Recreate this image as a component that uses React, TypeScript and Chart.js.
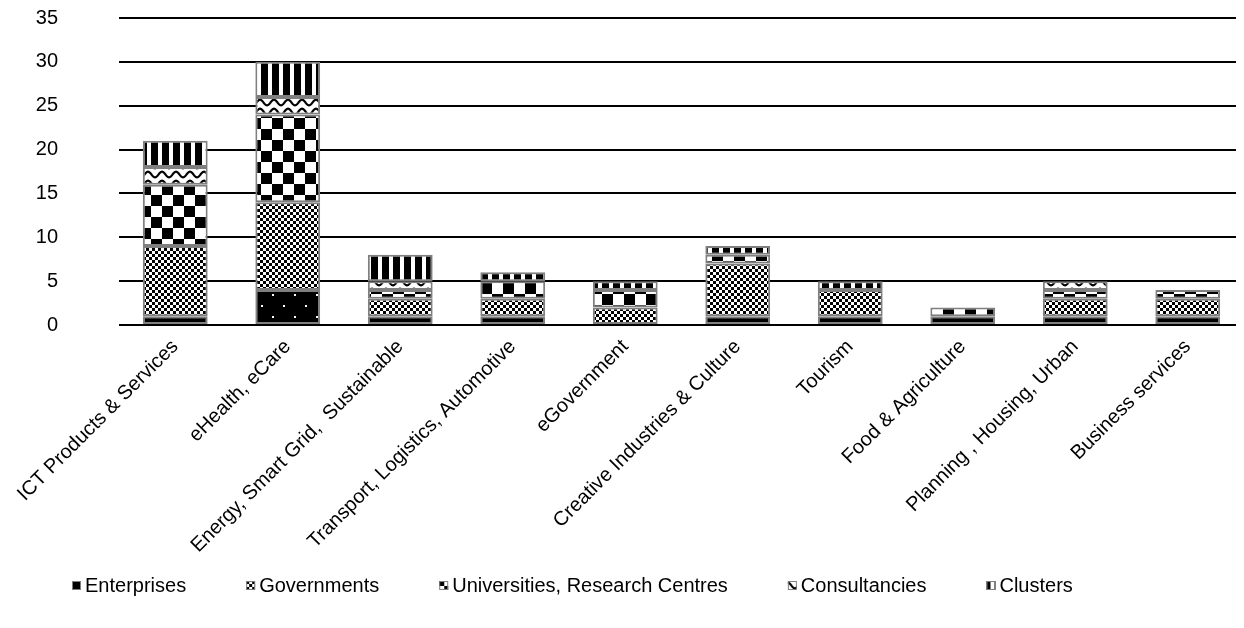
import { useEffect, useRef } from "react";
import { Chart, registerables } from "chart.js";

Chart.register(...registerables);

const categories = [
  "ICT Products & Services",
  "eHealth, eCare",
  "Energy, Smart Grid,  Sustainable",
  "Transport, Logistics, Automotive",
  "eGovernment",
  "Creative Industries & Culture",
  "Tourism",
  "Food & Agriculture",
  "Planning , Housing, Urban",
  "Business services",
];

const enterprises = [1, 4, 1, 1, 0, 1, 1, 1, 1, 1];
const governments = [8, 10, 2, 2, 2, 6, 3, 0, 2, 2];
const universities = [7, 10, 1, 2, 2, 1, 0, 1, 1, 1];
const consultancies = [2, 2, 1, 0, 0, 0, 0, 0, 1, 0];
const clusters = [3, 4, 3, 1, 1, 1, 1, 0, 0, 0];

const yTicks = [0, 5, 10, 15, 20, 25, 30, 35];

const FONT = "'Liberation Sans', Arial, sans-serif";
const FONT_SIZE = 20;
const BORDER = "#7f7f7f";

function tile(w: number, h: number, draw: (g: CanvasRenderingContext2D) => void): CanvasPattern {
  const c = document.createElement("canvas");
  c.width = w;
  c.height = h;
  const g = c.getContext("2d")!;
  g.fillStyle = "#fff";
  g.fillRect(0, 0, w, h);
  g.fillStyle = "#000";
  draw(g);
  return g.createPattern(c, "repeat")!;
}

function buildPatterns() {
  // black with sparse white dots
  const dotted = tile(22, 22, (g) => {
    g.fillRect(0, 0, 22, 22);
    g.fillStyle = "#fff";
    g.fillRect(0, 0, 2, 2);
    g.fillRect(11, 11, 2, 2);
  });
  // fine checkerboard
  const fineCheck = tile(6, 6, (g) => {
    g.fillRect(0, 0, 3, 3);
    g.fillRect(3, 3, 3, 3);
  });
  // large checkerboard
  const bigCheck = tile(22, 22, (g) => {
    g.fillRect(0, 0, 11, 11);
    g.fillRect(11, 11, 11, 11);
  });
  // wavy line
  const wave = tile(14, 9, (g) => {
    g.strokeStyle = "#000";
    g.lineWidth = 2.2;
    g.beginPath();
    for (let x = -1; x <= 15; x += 0.5) {
      const y = 4.5 - 2.8 * Math.cos((2 * Math.PI * x) / 14);
      if (x === -1) g.moveTo(x, y);
      else g.lineTo(x, y);
    }
    g.stroke();
  });
  // wide vertical stripes
  const stripes = tile(11, 4, (g) => {
    g.fillRect(0, 0, 7, 4);
  });
  return { dotted, fineCheck, bigCheck, wave, stripes };
}

type Swatch = { fill: string | CanvasPattern; dx: number; dy: number };

// Legend row drawn under the axis labels: small pattern swatch + label per series
function makeLegendPlugin(swatches: Swatch[]) {
  const left = 64;
  const centerY = 577;
  const box = 9;
  const textGap = 4;
  const itemGap = 60;
  return {
    id: "patternLegend",
    afterDraw(chart: any) {
      const ctx: CanvasRenderingContext2D = chart.ctx;
      ctx.save();
      ctx.font = `${FONT_SIZE}px ${FONT}`;
      ctx.textBaseline = "middle";
      ctx.textAlign = "left";
      let x = left;
      const top = Math.round(centerY - box / 2);
      chart.data.datasets.forEach((ds: any, i: number) => {
        const s = swatches[i];
        // anchor the pattern on the swatch so each one shows a readable piece of it
        ctx.save();
        ctx.translate(x - s.dx, top - s.dy);
        ctx.fillStyle = s.fill;
        ctx.fillRect(s.dx, s.dy, box, box);
        ctx.restore();
        ctx.strokeStyle = BORDER;
        ctx.lineWidth = 1;
        ctx.strokeRect(x + 0.5, top + 0.5, box - 1, box - 1);
        ctx.fillStyle = "#000";
        ctx.fillText(ds.label, x + box + textGap, centerY + 1);
        x += box + textGap + ctx.measureText(ds.label).width + itemGap;
      });
      ctx.restore();
    },
  };
}

export default function App() {
  const ref = useRef<HTMLCanvasElement | null>(null);

  useEffect(() => {
    if (!ref.current) return;
    const p = buildPatterns();
    const common = { borderColor: BORDER, borderWidth: 2, borderSkipped: false as const };

    const chart = new Chart(ref.current, {
      type: "bar",
      data: {
        labels: categories,
        datasets: [
          {
            label: "Enterprises",
            data: enterprises,
            backgroundColor: (ctx: any) =>
              ctx.type === "data" && ctx.dataIndex === 1 ? p.dotted : "#000",
            ...common,
          },
          { label: "Governments", data: governments, backgroundColor: p.fineCheck, ...common },
          {
            label: "Universities, Research Centres",
            data: universities,
            backgroundColor: p.bigCheck,
            ...common,
          },
          { label: "Consultancies", data: consultancies, backgroundColor: p.wave, ...common },
          { label: "Clusters", data: clusters, backgroundColor: p.stripes, ...common },
        ],
      },
      options: {
        responsive: true,
        maintainAspectRatio: false,
        animation: false,
        layout: { padding: { left: 0, right: 0, top: 0, bottom: 55 } },
        datasets: { bar: { categoryPercentage: 1, barPercentage: 0.576 } },
        plugins: {
          tooltip: { enabled: false },
          legend: { display: false },
        },
        scales: {
          x: {
            stacked: true,
            grid: { display: false },
            border: { display: false },
            ticks: {
              color: "#000",
              font: { family: FONT, size: FONT_SIZE },
              minRotation: 45,
              maxRotation: 45,
              autoSkip: false,
              padding: 2,
            },
            afterFit: (s: any) => {
              s.height = 240;
            },
          },
          y: {
            stacked: true,
            min: 0,
            max: 35,
            afterBuildTicks: (s: any) => {
              s.ticks = yTicks.map((v) => ({ value: v }));
            },
            grid: { color: "#000", lineWidth: 2, drawTicks: false },
            border: { display: false },
            ticks: {
              color: "#000",
              font: { family: FONT, size: FONT_SIZE },
              padding: 61,
            },
            afterFit: (s: any) => {
              s.width = 111;
              s.paddingTop = 10;
              s.paddingBottom = 0;
            },
          },
        },
      },
      plugins: [
        makeLegendPlugin([
          { fill: "#000", dx: 0, dy: 0 },
          { fill: p.fineCheck, dx: 0, dy: 0 },
          { fill: p.bigCheck, dx: 6, dy: 6 },
          { fill: p.wave, dx: 0, dy: 0 },
          { fill: p.stripes, dx: 3, dy: 0 },
        ]),
      ],
    });
    return () => chart.destroy();
  }, []);

  return (
    <div style={{ width: 1236, height: 612 }}>
      <canvas ref={ref} />
    </div>
  );
}
